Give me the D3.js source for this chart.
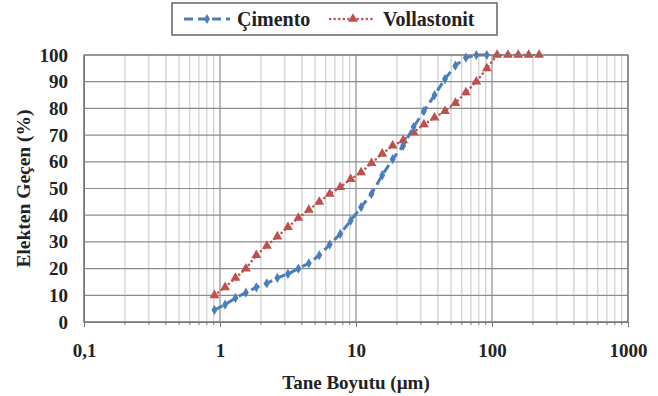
<!DOCTYPE html>
<html>
<head>
<meta charset="utf-8">
<script src="https://cdn.jsdelivr.net/npm/d3@7"></script>
<style>
  body { margin: 0; background: #fff; }
  text { font-family: "Liberation Serif", "Times New Roman", serif; font-weight: bold; fill: #222; }
</style>
</head>
<body>
<svg></svg>
<script>
const width = 658;
const height = 396;

// particle sizes (µm)
const sizes = [0.91, 1.09, 1.30, 1.55, 1.85, 2.21, 2.64, 3.16, 3.77, 4.50, 5.37, 6.41, 7.66, 9.14,
    10.9, 13.0, 15.6, 18.6, 22.2, 26.5, 31.6, 37.8, 45.1, 53.8, 64.3, 76.7, 91.6, 109, 131, 156, 186, 222];

const cimento = [4.5, 6.5, 9, 11, 13, 14.5, 16.5, 18, 20, 22, 25, 29, 33, 38, 43, 48, 55, 61, 66, 73,
    79, 85, 91, 96, 99, 100, 100];

const vollastonit = [10, 13, 16.5, 20, 25, 28.5, 32, 35.5, 39, 42, 45, 48, 50.5, 53.5, 56, 59.5, 63,
    66, 68, 71, 74, 76.5, 79, 82, 86, 90, 95, 100, 100, 100, 100, 100];

const xTicks = [0.1, 1, 10, 100, 1000];
const xTickLabels = ['0,1', '1', '10', '100', '1000'];
const yTicks = [0, 10, 20, 30, 40, 50, 60, 70, 80, 90, 100];

const margin = {top: 55, right: 30, bottom: 74, left: 84};

const svg = d3.select('svg')
    .attr('width', width)
    .attr('height', height);

const x = d3.scaleLog()
    .domain([0.1, 1000])
    .range([margin.left, width - margin.right]);

const y = d3.scaleLinear()
    .domain([0, 100])
    .range([height - margin.bottom, margin.top]);

// minor vertical grid
const minors = [];
for (let dec = 0.1; dec < 1000; dec *= 10) {
    for (let k = 2; k <= 9; k++) minors.push(dec * k);
}
svg.append('g').selectAll('line').data(minors)
    .enter().append('line')
        .attr('x1', d => x(d)).attr('x2', d => x(d))
        .attr('y1', y(0)).attr('y2', y(100))
        .attr('stroke', '#c4c4c4')
        .attr('stroke-width', 1);

// major grid
svg.append('g').selectAll('line').data(xTicks)
    .enter().append('line')
        .attr('x1', d => x(d)).attr('x2', d => x(d))
        .attr('y1', y(0)).attr('y2', y(100))
        .attr('stroke', '#8c8c8c')
        .attr('stroke-width', 1.2);

svg.append('g').selectAll('line').data(yTicks)
    .enter().append('line')
        .attr('x1', x(0.1)).attr('x2', x(1000))
        .attr('y1', d => y(d)).attr('y2', d => y(d))
        .attr('stroke', '#8c8c8c')
        .attr('stroke-width', 1.2);

// axes
const xAxis = svg.append('g')
    .attr('transform', `translate(0,${y(0)})`)
    .call(d3.axisBottom(x).tickValues(xTicks).tickFormat((d, i) => xTickLabels[i]).tickSize(5).tickPadding(17));
xAxis.select('.domain').attr('stroke', '#777');
xAxis.selectAll('line').attr('stroke', '#777');
xAxis.selectAll('text').style('font-size', '19px');

svg.append('g').selectAll('line').data(minors)
    .enter().append('line')
        .attr('x1', d => x(d)).attr('x2', d => x(d))
        .attr('y1', y(0)).attr('y2', y(0) + 3)
        .attr('stroke', '#777');

const yAxis = svg.append('g')
    .attr('transform', `translate(${x(0.1)},0)`)
    .call(d3.axisLeft(y).tickValues(yTicks).tickSize(0).tickPadding(16));
yAxis.select('.domain').attr('stroke', '#777');
yAxis.selectAll('text').style('font-size', '19px');

// axis titles
svg.append('text')
    .attr('x', x(10))
    .attr('y', 389)
    .attr('text-anchor', 'middle')
    .style('font-size', '19px')
    .text('Tane Boyutu (µm)');

svg.append('text')
    .attr('transform', `translate(30,${(y(0) + y(100)) / 2}) rotate(-90)`)
    .attr('text-anchor', 'middle')
    .style('font-size', '19.5px')
    .text('Elekten Geçen (%)');

// series
const line = d3.line()
    .x(d => x(d[0]))
    .y(d => y(d[1]));

const blueData = cimento.map((v, i) => [sizes[i], v]);
const redData = vollastonit.map((v, i) => [sizes[i], v]);

const blue = '#4a7ebb';
const red = '#c0504d';

svg.append('path')
    .datum(redData)
    .attr('d', line)
    .attr('fill', 'none')
    .attr('stroke', red)
    .attr('stroke-width', 2.5)
    .attr('stroke-linecap', 'round')
    .attr('stroke-dasharray', '0.1 4.5');

svg.append('g').selectAll('path').data(redData)
    .enter().append('path')
        .attr('transform', d => `translate(${x(d[0])},${y(d[1])})`)
        .attr('d', d3.symbol(d3.symbolTriangle, 42))
        .attr('fill', red);

svg.append('path')
    .datum(blueData)
    .attr('d', line)
    .attr('fill', 'none')
    .attr('stroke', blue)
    .attr('stroke-width', 3)
    .attr('stroke-dasharray', '9 5');

svg.append('g').selectAll('path').data(blueData)
    .enter().append('path')
        .attr('transform', d => `translate(${x(d[0])},${y(d[1])})`)
        .attr('d', d3.symbol(d3.symbolDiamond, 30))
        .attr('fill', blue);

// plot border
svg.append('rect')
    .attr('x', x(0.1)).attr('y', y(100))
    .attr('width', x(1000) - x(0.1))
    .attr('height', y(0) - y(100))
    .attr('fill', 'none')
    .attr('stroke', '#777')
    .attr('stroke-width', 1.2);

// legend
const legend = svg.append('g');
legend.append('rect')
    .attr('x', 172).attr('y', 3)
    .attr('width', 325).attr('height', 32)
    .attr('fill', '#fff')
    .attr('stroke', '#666')
    .attr('stroke-width', 1.5);

legend.append('line')
    .attr('x1', 184).attr('x2', 230).attr('y1', 19).attr('y2', 19)
    .attr('stroke', blue).attr('stroke-width', 3).attr('stroke-dasharray', '9 5');
legend.append('path')
    .attr('transform', 'translate(207,19)')
    .attr('d', d3.symbol(d3.symbolDiamond, 30))
    .attr('fill', blue);
legend.append('text')
    .attr('x', 237).attr('y', 26)
    .style('font-size', '20px')
    .text('Çimento');

legend.append('line')
    .attr('x1', 330).attr('x2', 376).attr('y1', 19).attr('y2', 19)
    .attr('stroke', red).attr('stroke-width', 2.5).attr('stroke-linecap', 'round')
    .attr('stroke-dasharray', '0.1 4.5');
legend.append('path')
    .attr('transform', 'translate(353,19)')
    .attr('d', d3.symbol(d3.symbolTriangle, 42))
    .attr('fill', red);
legend.append('text')
    .attr('x', 383).attr('y', 26)
    .style('font-size', '20px')
    .text('Vollastonit');
</script>
</body>
</html>
